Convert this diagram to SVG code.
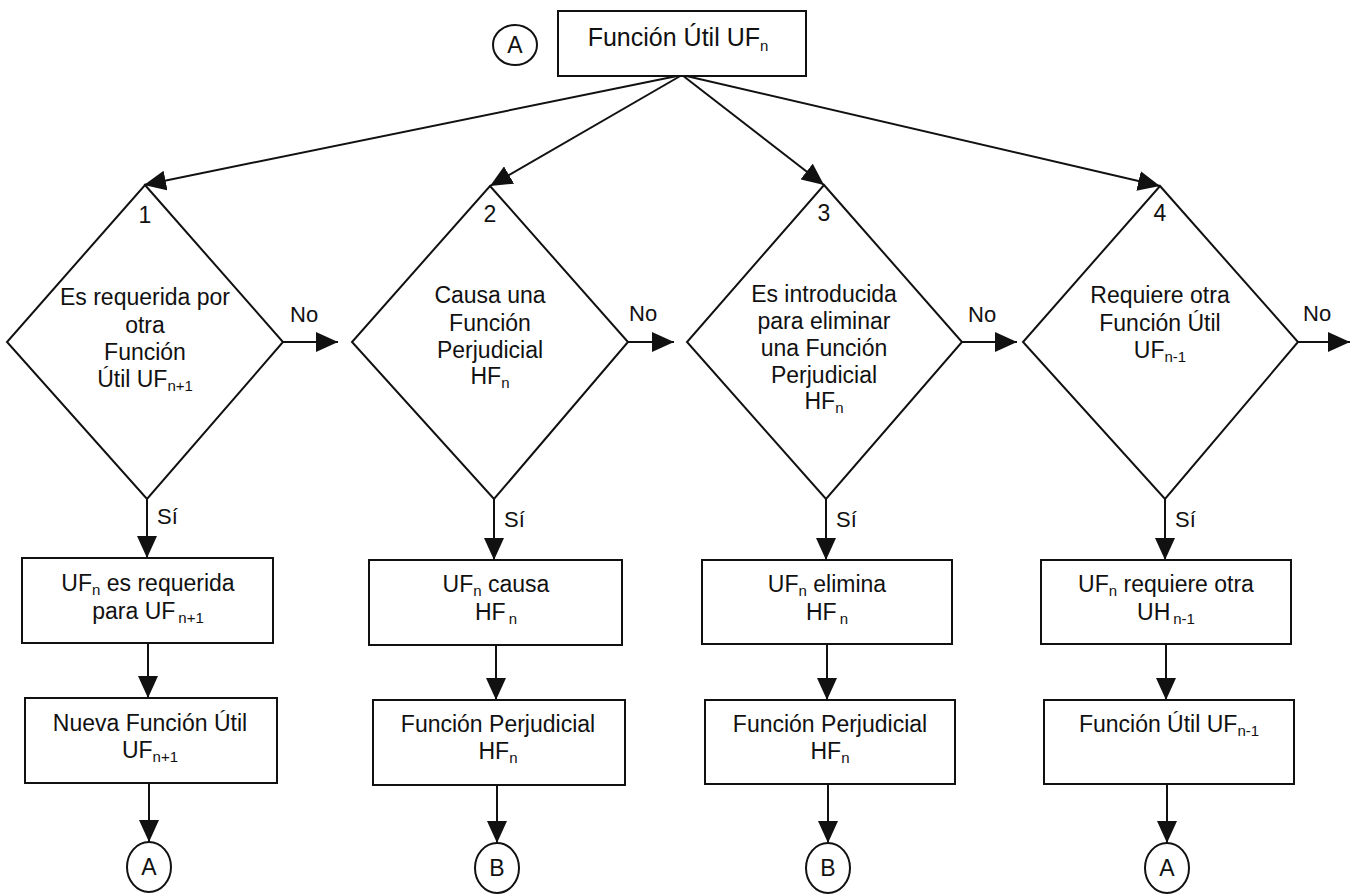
<svg xmlns="http://www.w3.org/2000/svg" width="1353" height="895" viewBox="0 0 1353 895">
  <style>
    .shape { fill: #ffffff; stroke: #111111; stroke-width: 2; }
    .edge { fill: none; stroke: #111111; stroke-width: 2; marker-end: url(#arrow); }
    text { font-family: "Liberation Sans", Arial, Helvetica, sans-serif; fill: #111111; }
    .t { font-size: 23px; text-anchor: middle; }
    .title { font-size: 25px; text-anchor: middle; }
    .lbl { font-size: 22px; }
    .num { font-size: 23px; text-anchor: middle; }
    .sub { font-size: 15px; }
  </style>
  <defs>
    <marker id="arrow" viewBox="0 0 22 20" refX="22" refY="10" markerWidth="22" markerHeight="20" markerUnits="userSpaceOnUse" orient="auto">
      <path d="M0,0 L22,10 L0,20 Z" fill="#111111"/>
    </marker>
  </defs>
  <rect width="1353" height="895" fill="#ffffff"/>

  <!-- connectors -->
  <g id="connectors">
    <!-- fan-out from the start box -->
    <line class="edge" x1="682" y1="75" x2="144" y2="185"/>
    <line class="edge" x1="682" y1="75" x2="490" y2="186"/>
    <line class="edge" x1="682" y1="75" x2="824" y2="185"/>
    <line class="edge" x1="682" y1="75" x2="1160" y2="186"/>
    <!-- "No" exits -->
    <line class="edge" x1="283" y1="342" x2="338" y2="342"/>
    <line class="edge" x1="628" y1="342" x2="674" y2="342"/>
    <line class="edge" x1="962" y1="342" x2="1017" y2="342"/>
    <line class="edge" x1="1298" y1="342" x2="1350" y2="342"/>
    <!-- column 1 -->
    <line class="edge" x1="147" y1="499" x2="147" y2="558"/>
    <line class="edge" x1="148" y1="643" x2="148" y2="698"/>
    <line class="edge" x1="149" y1="783" x2="149" y2="842"/>
    <!-- column 2 -->
    <line class="edge" x1="494" y1="499" x2="494" y2="560"/>
    <line class="edge" x1="496" y1="645" x2="496" y2="700"/>
    <line class="edge" x1="497" y1="785" x2="497" y2="843"/>
    <!-- column 3 -->
    <line class="edge" x1="826" y1="499" x2="826" y2="560"/>
    <line class="edge" x1="827" y1="644" x2="827" y2="700"/>
    <line class="edge" x1="828" y1="784" x2="828" y2="843"/>
    <!-- column 4 -->
    <line class="edge" x1="1165" y1="499" x2="1165" y2="560"/>
    <line class="edge" x1="1166" y1="644" x2="1166" y2="700"/>
    <line class="edge" x1="1167" y1="784" x2="1167" y2="843"/>
    <!-- branch labels -->
    <text class="lbl" x="290" y="322">No</text>
    <text class="lbl" x="629" y="321">No</text>
    <text class="lbl" x="968" y="322">No</text>
    <text class="lbl" x="1303" y="321">No</text>
    <text class="lbl" x="157" y="524">Sí</text>
    <text class="lbl" x="504" y="527">Sí</text>
    <text class="lbl" x="836" y="527">Sí</text>
    <text class="lbl" x="1175" y="527">Sí</text>
  </g>

  <!-- start -->
  <g id="start-connector">
    <ellipse class="shape" cx="515" cy="45" rx="22" ry="20"/>
    <text class="num" x="515" y="53">A</text>
  </g>
  <g id="start">
    <rect class="shape" x="558" y="11" width="248" height="65"/>
    <text class="title" x="678" y="46">Función Útil UF<tspan class="sub" dy="5">n</tspan></text>
  </g>

  <!-- decisions -->
  <g id="decision-1">
    <polygon class="shape" points="145,185 283,342 147,499 7,342"/>
    <text class="num" x="145" y="223">1</text>
    <text class="t" x="145" y="305">Es requerida por</text>
    <text class="t" x="145" y="333">otra</text>
    <text class="t" x="145" y="360">Función</text>
    <text class="t" x="145" y="387">Útil UF<tspan class="sub" dy="4">n+1</tspan></text>
  </g>
  <g id="decision-2">
    <polygon class="shape" points="490,186 628,342 494,499 352,342"/>
    <text class="num" x="490" y="222">2</text>
    <text class="t" x="490" y="303">Causa una</text>
    <text class="t" x="490" y="331">Función</text>
    <text class="t" x="490" y="358">Perjudicial</text>
    <text class="t" x="490" y="384">HF<tspan class="sub" dy="4">n</tspan></text>
  </g>
  <g id="decision-3">
    <polygon class="shape" points="824,185 962,342 826,499 687,342"/>
    <text class="num" x="824" y="221">3</text>
    <text class="t" x="824" y="302">Es introducida</text>
    <text class="t" x="824" y="329">para eliminar</text>
    <text class="t" x="824" y="356">una Función</text>
    <text class="t" x="824" y="383">Perjudicial</text>
    <text class="t" x="824" y="409">HF<tspan class="sub" dy="4">n</tspan></text>
  </g>
  <g id="decision-4">
    <polygon class="shape" points="1160,186 1298,342 1165,499 1023,342"/>
    <text class="num" x="1160" y="221">4</text>
    <text class="t" x="1160" y="303">Requiere otra</text>
    <text class="t" x="1160" y="331">Función Útil</text>
    <text class="t" x="1160" y="358">UF<tspan class="sub" dy="4">n-1</tspan></text>
  </g>

  <!-- column 1 results -->
  <g id="result-1">
    <rect class="shape" x="22" y="558" width="251" height="85"/>
    <text class="t" x="148" y="591">UF<tspan class="sub" dy="4">n</tspan><tspan dy="-4"> es requerida</tspan></text>
    <text class="t" x="148" y="619">para UF<tspan class="sub" dx="3" dy="4">n+1</tspan></text>
  </g>
  <g id="function-1">
    <rect class="shape" x="25" y="698" width="252" height="85"/>
    <text class="t" x="150" y="731">Nueva Función Útil</text>
    <text class="t" x="150" y="758">UF<tspan class="sub" dy="4">n+1</tspan></text>
  </g>
  <g id="end-1">
    <ellipse class="shape" cx="149" cy="867" rx="22" ry="25"/>
    <text class="num" x="149" y="875">A</text>
  </g>

  <!-- column 2 results -->
  <g id="result-2">
    <rect class="shape" x="369" y="560" width="253" height="85"/>
    <text class="t" x="496" y="592">UF<tspan class="sub" dy="4">n</tspan><tspan dy="-4"> causa</tspan></text>
    <text class="t" x="496" y="620">HF<tspan class="sub" dx="3" dy="4">n</tspan></text>
  </g>
  <g id="function-2">
    <rect class="shape" x="373" y="700" width="252" height="85"/>
    <text class="t" x="498" y="732">Función Perjudicial</text>
    <text class="t" x="498" y="759">HF<tspan class="sub" dy="4">n</tspan></text>
  </g>
  <g id="end-2">
    <ellipse class="shape" cx="497" cy="868" rx="22" ry="25"/>
    <text class="num" x="497" y="876">B</text>
  </g>

  <!-- column 3 results -->
  <g id="result-3">
    <rect class="shape" x="702" y="560" width="250" height="84"/>
    <text class="t" x="827" y="592">UF<tspan class="sub" dy="4">n</tspan><tspan dy="-4"> elimina</tspan></text>
    <text class="t" x="827" y="620">HF<tspan class="sub" dx="3" dy="4">n</tspan></text>
  </g>
  <g id="function-3">
    <rect class="shape" x="705" y="700" width="250" height="84"/>
    <text class="t" x="830" y="732">Función Perjudicial</text>
    <text class="t" x="830" y="759">HF<tspan class="sub" dy="4">n</tspan></text>
  </g>
  <g id="end-3">
    <ellipse class="shape" cx="828" cy="868" rx="22" ry="25"/>
    <text class="num" x="828" y="876">B</text>
  </g>

  <!-- column 4 results -->
  <g id="result-4">
    <rect class="shape" x="1041" y="560" width="250" height="84"/>
    <text class="t" x="1166" y="592">UF<tspan class="sub" dy="4">n</tspan><tspan dy="-4"> requiere otra</tspan></text>
    <text class="t" x="1166" y="620">UH<tspan class="sub" dx="3" dy="4">n-1</tspan></text>
  </g>
  <g id="function-4">
    <rect class="shape" x="1044" y="700" width="250" height="84"/>
    <text class="t" x="1169" y="732">Función Útil UF<tspan class="sub" dy="4">n-1</tspan></text>
  </g>
  <g id="end-4">
    <ellipse class="shape" cx="1167" cy="868" rx="22" ry="25"/>
    <text class="num" x="1167" y="876">A</text>
  </g>
</svg>
